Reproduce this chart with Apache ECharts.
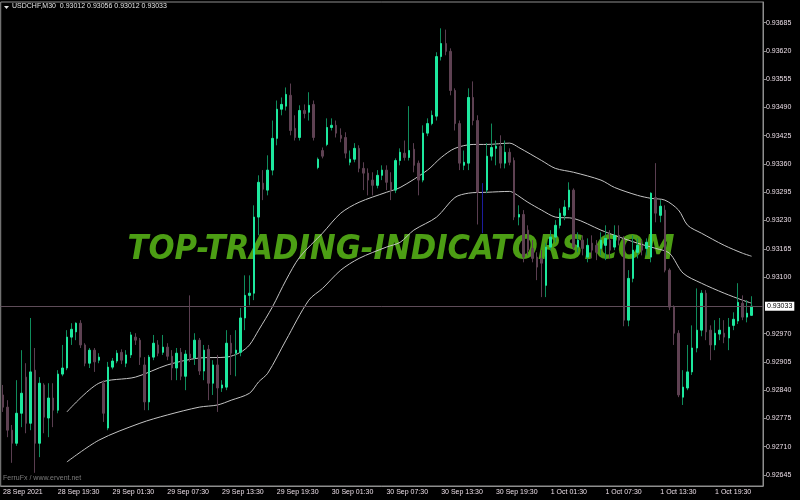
<!DOCTYPE html>
<html><head><meta charset="utf-8">
<script src="https://cdn.jsdelivr.net/npm/echarts@6/dist/echarts.min.js"></script>
<style>html,body{margin:0;padding:0;background:#000}#c{width:800px;height:500px}</style>
</head><body><div id="c"></div>
<script>
const titleText = 'USDCHF,M30  0.93012 0.93056 0.93012 0.93033';
const creditText = 'FerruFx / www.ervent.net';
const watermarkText = 'TOP-TRADING-INDICATORS.COM';
const slotCount = 167;
const startUTC = Date.UTC(2021, 8, 28, 13, 30);
const tickEvery = 12;
const xTickLabels = ['28 Sep 2021','28 Sep 19:30','29 Sep 01:30','29 Sep 07:30','29 Sep 13:30','29 Sep 19:30','30 Sep 01:30','30 Sep 07:30','30 Sep 13:30','30 Sep 19:30','1 Oct 01:30','1 Oct 07:30','1 Oct 13:30','1 Oct 19:30'];
const yTickLabels = [0.92645,0.92710,0.92775,0.92840,0.92905,0.92970,0.93100,0.93165,0.93230,0.93295,0.93360,0.93425,0.93490,0.93555,0.93620,0.93685];
const yMin = 0.926197, yMax = 0.937325;
const lastPrice = 0.93033;
// [open, close, low, high]
const ohlc = [
[0.92829,0.92801,0.92790,0.92852],[0.92801,0.92748,0.92732,0.92817],[0.92748,0.92718,0.92673,0.92760],[0.92718,0.92787,0.92712,0.92863],
[0.92787,0.92833,0.92755,0.92932],[0.92870,0.92764,0.92741,0.92902],[0.92764,0.92882,0.92748,0.93006],[0.92886,0.92718,0.92650,0.92937],
[0.92718,0.92856,0.92686,0.92870],[0.92852,0.92778,0.92741,0.92856],[0.92776,0.92822,0.92732,0.92856],[0.92822,0.92794,0.92755,0.92856],
[0.92794,0.92877,0.92787,0.92886],[0.92877,0.92891,0.92872,0.92944],[0.92891,0.92962,0.92886,0.92978],[0.92962,0.92980,0.92944,0.92994],
[0.92974,0.92994,0.92955,0.92996],[0.92994,0.92944,0.92937,0.93001],[0.92944,0.92902,0.92895,0.92948],[0.92902,0.92932,0.92891,0.92937],
[0.92932,0.92905,0.92882,0.92937],[0.92909,0.92916,0.92902,0.92925],[0.92856,0.92787,0.92767,0.92863],[0.92753,0.92893,0.92748,0.92905],
[0.92893,0.92907,0.92888,0.92914],[0.92907,0.92925,0.92902,0.92932],[0.92927,0.92909,0.92900,0.92934],[0.92902,0.92921,0.92893,0.92932],
[0.92921,0.92967,0.92914,0.92974],[0.92962,0.92955,0.92944,0.92971],[0.92955,0.92916,0.92898,0.92960],[0.92898,0.92813,0.92794,0.92916],
[0.92813,0.92916,0.92794,0.92921],[0.92916,0.92948,0.92909,0.92967],[0.92944,0.92925,0.92918,0.92955],[0.92927,0.92939,0.92921,0.92967],
[0.92939,0.92918,0.92909,0.92948],[0.92918,0.92891,0.92863,0.92932],[0.92891,0.92925,0.92863,0.92937],[0.92927,0.92872,0.92863,0.92937],
[0.92872,0.92923,0.92840,0.92932],[0.92923,0.92914,0.92905,0.93058],[0.92914,0.92955,0.92898,0.92971],[0.92955,0.92884,0.92875,0.92960],
[0.92884,0.92932,0.92863,0.92944],[0.92934,0.92856,0.92817,0.92944],[0.92856,0.92898,0.92829,0.92909],[0.92898,0.92845,0.92790,0.92921],
[0.92845,0.92852,0.92836,0.92863],[0.92847,0.92948,0.92840,0.92978],[0.92948,0.92925,0.92875,0.92967],[0.92925,0.92932,0.92872,0.92978],
[0.92927,0.93006,0.92918,0.93029],[0.93006,0.93058,0.92978,0.93104],[0.93058,0.93063,0.93035,0.93104],[0.93063,0.93238,0.93047,0.93265],
[0.93238,0.93318,0.93196,0.93334],[0.93316,0.93302,0.93277,0.93346],[0.93300,0.93346,0.93288,0.93380],[0.93346,0.93419,0.93334,0.93460],
[0.93419,0.93486,0.93403,0.93506],[0.93486,0.93497,0.93472,0.93513],[0.93493,0.93520,0.93483,0.93536],[0.93518,0.93437,0.93426,0.93545],
[0.93442,0.93421,0.93414,0.93472],[0.93421,0.93483,0.93414,0.93495],[0.93483,0.93476,0.93465,0.93497],[0.93479,0.93495,0.93460,0.93525],
[0.93497,0.93421,0.93414,0.93506],[0.93352,0.93371,0.93348,0.93375],[0.93391,0.93378,0.93373,0.93398],[0.93405,0.93444,0.93401,0.93465],
[0.93444,0.93449,0.93437,0.93465],[0.93449,0.93431,0.93421,0.93460],[0.93426,0.93419,0.93410,0.93442],[0.93421,0.93385,0.93373,0.93433],
[0.93364,0.93371,0.93357,0.93391],[0.93371,0.93396,0.93364,0.93408],[0.93396,0.93350,0.93341,0.93403],[0.93350,0.93339,0.93300,0.93364],
[0.93339,0.93323,0.93288,0.93350],[0.93323,0.93311,0.93288,0.93341],[0.93311,0.93334,0.93304,0.93346],[0.93334,0.93346,0.93323,0.93357],
[0.93346,0.93318,0.93300,0.93357],[0.93318,0.93300,0.93277,0.93341],[0.93300,0.93368,0.93293,0.93373],[0.93368,0.93387,0.93357,0.93396],
[0.93385,0.93375,0.93368,0.93414],[0.93375,0.93391,0.93368,0.93493],[0.93394,0.93357,0.93341,0.93408],[0.93362,0.93323,0.93288,0.93368],
[0.93323,0.93431,0.93318,0.93449],[0.93431,0.93453,0.93424,0.93465],[0.93453,0.93472,0.93449,0.93483],[0.93470,0.93607,0.93460,0.93617],
[0.93607,0.93637,0.93598,0.93672],[0.93637,0.93619,0.93610,0.93669],[0.93619,0.93529,0.93518,0.93626],[0.93529,0.93453,0.93437,0.93534],
[0.93453,0.93362,0.93346,0.93460],[0.93357,0.93364,0.93346,0.93391],[0.93362,0.93513,0.93346,0.93534],[0.93513,0.93460,0.93449,0.93550],
[0.93460,0.93295,0.93221,0.93472],[0.93311,0.93306,0.93201,0.93316],[0.93300,0.93378,0.93293,0.93408],[0.93378,0.93398,0.93368,0.93453],
[0.93396,0.93401,0.93357,0.93414],[0.93401,0.93362,0.93350,0.93426],[0.93362,0.93387,0.93350,0.93414],[0.93387,0.93364,0.93357,0.93396],
[0.93368,0.93238,0.93231,0.93375],[0.93238,0.93244,0.93219,0.93265],[0.93244,0.93146,0.93134,0.93254],[0.93208,0.93162,0.93150,0.93219],
[0.93166,0.93143,0.93134,0.93185],[0.93146,0.93123,0.93093,0.93157],[0.93143,0.93132,0.93054,0.93162],[0.93081,0.93169,0.93054,0.93178],
[0.93169,0.93192,0.93162,0.93208],[0.93192,0.93219,0.93180,0.93231],[0.93219,0.93247,0.93212,0.93258],[0.93242,0.93261,0.93231,0.93277],
[0.93261,0.93300,0.93254,0.93318],[0.93300,0.93169,0.93162,0.93304],[0.93169,0.93185,0.93157,0.93203],[0.93185,0.93166,0.93150,0.93196],
[0.93146,0.93173,0.93134,0.93189],[0.93178,0.93162,0.93143,0.93196],[0.93173,0.93157,0.93139,0.93185],[0.93166,0.93185,0.93150,0.93203],
[0.93173,0.93189,0.93139,0.93219],[0.93185,0.93162,0.93143,0.93208],[0.93169,0.93196,0.93162,0.93219],[0.93196,0.93185,0.93173,0.93219],
[0.93185,0.93001,0.92987,0.93194],[0.93001,0.93097,0.92987,0.93116],[0.93097,0.93162,0.93088,0.93196],[0.93157,0.93173,0.93143,0.93189],
[0.93173,0.93162,0.93150,0.93185],[0.93166,0.93180,0.93150,0.93189],[0.93146,0.93293,0.93134,0.93295],[0.93283,0.93247,0.93226,0.93362],
[0.93242,0.93263,0.93226,0.93277],[0.93254,0.93116,0.93111,0.93265],[0.93116,0.93031,0.93024,0.93120],[0.93031,0.92971,0.92944,0.93035],
[0.92971,0.92829,0.92824,0.92978],[0.92824,0.92847,0.92806,0.92886],[0.92845,0.92882,0.92840,0.92944],[0.92882,0.92937,0.92875,0.92989],
[0.92937,0.92978,0.92927,0.93074],[0.92978,0.93063,0.92964,0.93070],[0.93063,0.92974,0.92955,0.93070],[0.92978,0.92944,0.92909,0.92989],
[0.92944,0.92971,0.92932,0.93001],[0.92969,0.92978,0.92955,0.93006],[0.92971,0.92962,0.92948,0.93001],[0.92960,0.92985,0.92932,0.93006],
[0.92989,0.93003,0.92978,0.93019],[0.92999,0.93042,0.92992,0.93086],[0.93040,0.93008,0.93001,0.93058],[0.93008,0.93017,0.92996,0.93047],
[0.93012,0.93033,0.93012,0.93056]
];
const blueBarIndex = [105];
// [bar index, value]
const upperBand = [[14,0.92790],[21,0.92856],[29,0.92870],[36,0.92898],[43,0.92914],[49,0.92916],[52,0.92927],[54,0.92944],[56,0.92978],[59,0.93031],[62,0.93093],[65,0.93146],[70,0.93201],[74,0.93247],[78,0.93272],[84,0.93295],[87,0.93306],[93,0.93346],[96,0.93375],[99,0.93396],[103,0.93405],[106,0.93405],[111,0.93408],[113,0.93398],[118,0.93368],[121,0.93350],[125,0.93341],[131,0.93323],[134,0.93306],[139,0.93288],[142,0.93281],[145,0.93277],[148,0.93254],[150,0.93219],[153,0.93201],[158,0.93173],[162,0.93155],[164,0.93148]];
const lowerBand = [[14,0.92675],[21,0.92725],[30,0.92764],[36,0.92783],[43,0.92801],[47,0.92806],[50,0.92817],[54,0.92833],[56,0.92859],[58,0.92879],[62,0.92955],[67,0.93047],[70,0.93074],[74,0.93116],[78,0.93143],[84,0.93169],[87,0.93180],[90,0.93208],[95,0.93238],[99,0.93283],[102,0.93293],[106,0.93295],[111,0.93297],[112,0.93293],[115,0.93272],[118,0.93254],[121,0.93238],[125,0.93235],[131,0.93208],[134,0.93196],[139,0.93178],[143,0.93166],[146,0.93155],[149,0.93109],[153,0.93086],[158,0.93063],[162,0.93047],[164,0.93040]];

const months = ['Jan','Feb','Mar','Apr','May','Jun','Jul','Aug','Sep','Oct','Nov','Dec'];
const pad = n => (n < 10 ? '0' : '') + n;
const categories = [];
for (let i = 0; i < slotCount; i++) {
  const d = new Date(startUTC + i * 1800000);
  categories.push(d.getUTCDate() + ' ' + months[d.getUTCMonth()] + ' ' + pad(d.getUTCHours()) + ':' + pad(d.getUTCMinutes()));
}
const isBlue = i => blueBarIndex.indexOf(i) >= 0;
const wickData = ohlc.map((r, i) => isBlue(i) ? '-' : r);
const bodyData = ohlc.map((r, i) => isBlue(i) ? '-' : [r[0], r[1], Math.min(r[0], r[1]), Math.max(r[0], r[1])]);
const blueData = ohlc.map((r, i) => isBlue(i) ? r : '-');
const tickShow = i => i % tickEvery === 0 && i / tickEvery < xTickLabels.length;

const FONT = '"Liberation Sans", Arial, sans-serif';
const TXT = '#eadde6';
const chart = echarts.init(document.getElementById('c'), null, {renderer: 'canvas'});
chart.setOption({
  backgroundColor: '#000',
  animation: false,
  grid: {left: 0, right: 37, top: 2, bottom: 14, show: true, borderColor: '#8e8e8e', borderWidth: 1},
  xAxis: {
    type: 'category', data: categories, boundaryGap: true,
    axisLine: {lineStyle: {color: '#8e8e8e'}},
    axisTick: {alignWithLabel: true, interval: i => tickShow(i), length: 3, lineStyle: {color: '#8e8e8e'}},
    axisLabel: {interval: i => tickShow(i), formatter: (v, i) => xTickLabels[i / tickEvery], align: 'left',
      color: TXT, fontSize: 7, fontFamily: FONT, margin: 3},
    splitLine: {show: false}
  },
  yAxis: {
    type: 'value', position: 'right', min: yMin, max: yMax,
    axisLine: {show: true, lineStyle: {color: '#8e8e8e'}},
    axisTick: {show: true, length: 3, customValues: yTickLabels, lineStyle: {color: '#8e8e8e'}},
    axisLabel: {customValues: yTickLabels, formatter: v => v.toFixed(5), color: TXT, fontSize: 7, fontFamily: FONT, margin: 3},
    splitLine: {show: false}
  },
  graphic: [
    {type: 'text', x: 401, y: 250, scaleX: 0.93, z: 0,
      style: {text: watermarkText, font: 'italic bold 33px "DejaVu Sans"', fill: '#4c9e14', textAlign: 'center', textVerticalAlign: 'middle'}},
    {type: 'polygon', z: 10, shape: {points: [[4, 6], [9, 6], [6.5, 9]]}, style: {fill: '#e0e0e0'}},
    {type: 'text', x: 12, y: 3, z: 10, style: {text: titleText, font: '7px ' + FONT, fill: '#e4e4e4'}},
    {type: 'text', x: 3, y: 475, z: 10, style: {text: creditText, font: '7px ' + FONT, fill: '#7c7c7c'}}
  ],
  series: [
    {type: 'candlestick', name: 'wick', data: wickData, barWidth: 1, z: 2,
      itemStyle: {color: '#0f8c5c', color0: '#5a3e50', borderColor: '#0f8c5c', borderColor0: '#5a3e50', borderWidth: 1},
      markLine: {silent: true, symbol: 'none', precision: 5, data: [{yAxis: lastPrice}],
        lineStyle: {type: 'solid', color: '#5e4c58', width: 1},
        label: {position: 'end', distance: 2, formatter: p => Number(p.value).toFixed(5), backgroundColor: '#ffffff', color: '#000',
          padding: [1, 2, 1, 2], fontSize: 7, fontFamily: FONT}}},
    {type: 'candlestick', name: 'body', data: bodyData, barWidth: 2, z: 3,
      itemStyle: {color: '#1de89e', color0: '#5e4152', borderColor: '#1de89e', borderColor0: '#5e4152', borderWidth: 1}},
    {type: 'candlestick', name: 'blue', data: blueData, barWidth: 1, z: 3,
      itemStyle: {color: '#1c1c9c', color0: '#1c1c9c', borderColor: '#1c1c9c', borderColor0: '#1c1c9c', borderWidth: 1}},
    {type: 'line', name: 'upper', data: upperBand, smooth: 0.3, showSymbol: false, z: 2,
      lineStyle: {color: '#c4c4c4', width: 1}},
    {type: 'line', name: 'lower', data: lowerBand, smooth: 0.3, showSymbol: false, z: 2,
      lineStyle: {color: '#c4c4c4', width: 1}}
  ]
});
</script></body></html>
